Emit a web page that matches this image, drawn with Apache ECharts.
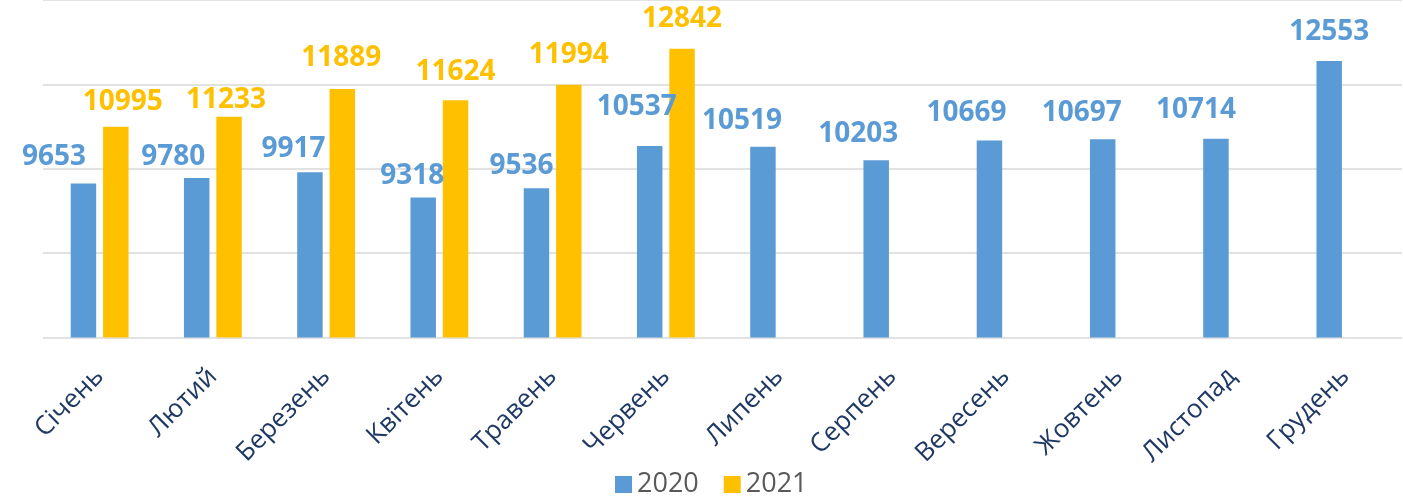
<!DOCTYPE html>
<html>
<head>
<meta charset="utf-8">
<script src="https://cdn.jsdelivr.net/npm/echarts@6/dist/echarts.min.js"></script>
<style>
html,body{margin:0;padding:0;background:#fff;}
#chart{width:1403px;height:496px;}
</style>
</head>
<body>
<div id="chart"></div>
<script>
const months = ['Січень','Лютий','Березень','Квітень','Травень','Червень','Липень','Серпень','Вересень','Жовтень','Листопад','Грудень'];
const values2020 = [9653, 9780, 9917, 9318, 9536, 10537, 10519, 10203, 10669, 10697, 10714, 12553];
const values2021 = [10995, 11233, 11889, 11624, 11994, 12842, null, null, null, null, null, null];
const seriesNames = ['2020', '2021'];

// label nudges (styling only, not data): [dx, dy] per point
const nudge2020 = [[-29.5,-12.3],[-23.5,-7],[-16.5,-9],[-11,-7],[-15,-8.7],[-13,-25],[-21,-12],[-18,-12],[-23,-13.7],[-21,-12.7],[-20,-14.5],[0,-15]];
const nudge2021 = [[7,-10.6],[-3,-2.5],[-1,-16.8],[0,-14.3],[0,-15.4],[0,-16.3]];

const FONT = '"Open Sans", "Noto Sans", sans-serif';
const LBL_SHIFT = 0;

function build(values, nudges) {
  return values.map((v, i) => {
    if (v === null) return null;
    const n = nudges[i] || [0, 0];
    return {
      value: v,
      label: { offset: [n[0], n[1] + LBL_SHIFT] }
    };
  });
}

const chart = echarts.init(document.getElementById('chart'), null, {renderer: 'canvas'});
chart.setOption({
  animation: false,
  backgroundColor: '#ffffff',
  grid: { left: 43, right: 1, top: -0.5, bottom: 158.5, containLabel: false },
  legend: {
    data: seriesNames,
    left: 610,
    top: 466,
    itemWidth: 17,
    itemHeight: 17,
    itemGap: 25,
    icon: 'rect',
    textStyle: { fontFamily: FONT, fontSize: 27, color: '#595959', padding: [0, 0, 0, 0] }
  },
  xAxis: {
    type: 'category',
    data: months,
    axisLine: { show: false },
    axisTick: { show: false },
    axisLabel: {
      interval: 0,
      rotate: 45,
      margin: 35,
      fontFamily: FONT,
      fontSize: 26,
      color: '#1f3864'
    }
  },
  yAxis: {
    type: 'value',
    min: 6000,
    max: 14000,
    interval: 2000,
    axisLabel: { show: false },
    axisLine: { show: false },
    axisTick: { show: false },
    splitLine: { show: true, lineStyle: { color: '#d9d9d9', width: 1.5 } }
  },
  series: [
    {
      name: seriesNames[0],
      type: 'bar',
      barWidth: '22.5%',
      barGap: '27%',
      itemStyle: { color: '#5b9bd5' },
      label: {
        show: true,
        position: 'top',
        distance: 0,
        fontFamily: FONT,
        fontWeight: 'bold',
        fontSize: 28,
        lineHeight: 28,
        color: '#5b9bd5'
      },
      data: build(values2020, nudge2020)
    },
    {
      name: seriesNames[1],
      type: 'bar',
      barWidth: '22.5%',
      barGap: '27%',
      itemStyle: { color: '#ffc000' },
      label: {
        show: true,
        position: 'top',
        distance: 0,
        fontFamily: FONT,
        fontWeight: 'bold',
        fontSize: 28,
        lineHeight: 28,
        color: '#ffc000'
      },
      data: build(values2021, nudge2021)
    }
  ]
});
</script>
</body>
</html>
